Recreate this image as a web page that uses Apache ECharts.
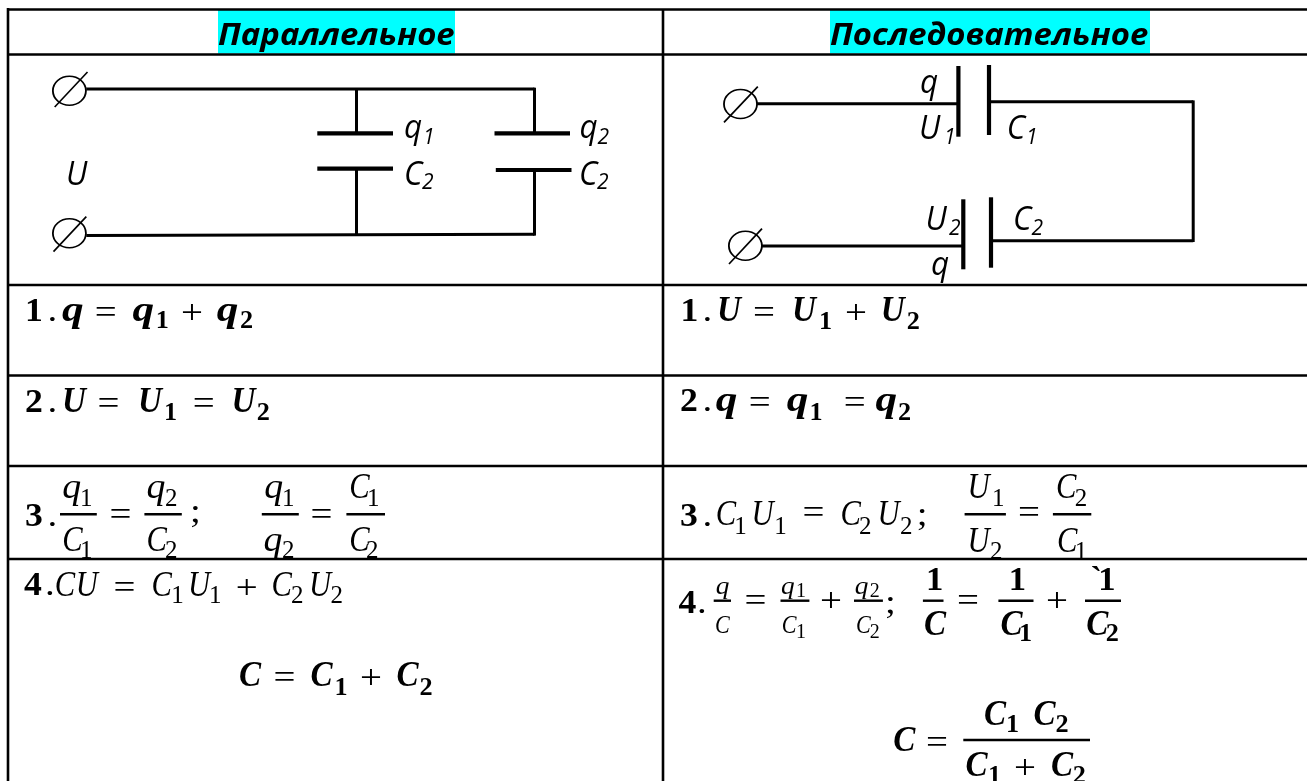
<!DOCTYPE html>
<html><head><meta charset="utf-8">
<style>html,body{margin:0;padding:0;background:#fff}#c{width:1307px;height:781px}</style>
<script src="https://cdn.jsdelivr.net/npm/echarts@6/dist/echarts.min.js"></script>
</head><body><div id="c"></div>
<script>
// x, y (x1, y1, x2, y2)
const highlights = [[218,10,455,53.5],[830,10,1150,53.5]];
const tableLines = [[7,9.5,1307,9.5],[7,54.5,1307,54.5],[7,285,1307,285],[7,375.5,1307,375.5],[7,466,1307,466],[7,559,1307,559],[8,8,8,781],[663,9,663,781]];
const wires = [[86.3,89,534.5,89],[86.3,235.5,534.5,234.3],[356.5,89,356.5,133],[356.5,169,356.5,235],[534.5,87.7,534.5,133],[534.5,170,534.5,235.6],
 [757,103.7,958.4,103.7],[989,101.7,1193.2,101.7],[1193.2,100.4,1193.2,242],[991,240.7,1193.2,240.7],[762,246,963,246]];
const plates = [[317.3,133.3,393,133.3],[317.3,168.7,393,168.7],[494.5,133.3,570,133.3],[495.8,170,571.5,170],
 [958.4,66,958.4,136.7],[989,65,989,135],[963.3,199.3,963.3,269.3],[991,197.3,991,267.7]];
const terminals = [[69.4,90.7],[69.4,233.3],[740.5,104],[745.4,245.7]];
const slashes = [[54.7,107,87.5,72],[53.5,251.7,86.3,216.7],[724,122.3,757.8,86.7],[729,264,762,228.7]];
const fractionBars = [[60,514.3,96.8,514.3],[144.4,514.3,181.8,514.3],[261.8,514.3,298.8,514.3],[346.4,514.3,385,514.3],
 [964.6,514.3,1005.9,514.3],[1052.9,514.3,1091.3,514.3],
 [713.7,600.7,731,600.7],[780.5,600.7,809.4,600.7],[854,600.7,882.9,600.7],[922.9,600.7,943.5,600.7],[998.4,600.7,1033.5,600.7],[1085,600.7,1121,600.7],[963.3,740,1090,740]];
const headings = [["Параллельное",218,44,"head"],["Последовательное",830,44,"head"]];
const circuitLabels = [["q",404,136,"lab"],["1",423,142.7,"labs"],["C",404,182.7,"lab"],["2",422,187.7,"labs"],["q",579.5,136,"lab"],["2",597.6,142.7,"labs"],["C",579,182.7,"lab"],["2",597,187.7,"labs"],["U",66,182.7,"lab"],
 ["q",920,90.7,"lab"],["U",919,136.7,"lab"],["1",944,142.7,"labs"],["C",1006.7,136.7,"lab"],["1",1026,142.7,"labs"],["U",925.4,227.7,"lab"],["2",949,233.3,"labs"],["C",1013,227.7,"lab"],["2",1031.5,233.3,"labs"],["q",931,273.3,"lab"]];
const formulasLeft = [
 ["1",25,320,"num"],[".",47.5,320,"op"],["q",62,320,"bi"],["=",94.7,320,"op"],["q",132.6,320,"bi"],["1",155.7,326.7,"bs"],["+",181,320,"op"],["q",216.7,320,"bi"],["2",240,326.7,"bs"],
 ["2",25,411,"num"],[".",47.5,411,"op"],["U",62,411,"bi"],["=",97.6,411,"op"],["U",138,411,"bi"],["1",164,418.3,"bs"],["=",192.8,411,"op"],["U",231.5,411,"bi"],["2",256.7,418.3,"bs"],
 ["3",25,524.3,"num"],[".",47.5,524.3,"op"],
 ["q",62.3,497,"it"],["1",80,504.3,"sub"],["C",62.3,550,"it"],["1",80,556.7,"sub"],["=",109.4,521.7,"op"],
 ["q",146.5,497,"it"],["2",165,504.3,"sub"],["C",146.5,550,"it"],["2",165,556.7,"sub"],[";",190,521,"op"],
 ["q",264.3,497,"it"],["1",282,504.3,"sub"],["q",263.5,550,"it"],["2",282,557,"sub"],["=",310.6,521.7,"op"],
 ["C",349.3,497,"it"],["1",367,504.3,"sub"],["C",349.3,550,"it"],["2",366,556.7,"sub"],
 ["4",24,593.3,"num"],[".",45,593.3,"op"],["C",54.7,595,"it"],["U",75.8,595,"it"],["=",113.6,595,"op"],["C",151.5,595,"it"],["1",171.3,601.7,"sub"],["U",188,595,"it"],["1",209,601.7,"sub"],["+",235.7,595,"op"],["C",271.5,595,"it"],["2",291,601.7,"sub"],["U",309,595,"it"],["2",330.4,601.7,"sub"],
 ["C",239,685,"bi"],["=",273.6,685,"op"],["C",310.6,685,"bi"],["1",334.6,693.3,"bs"],["+",359.9,685,"op"],["C",396.5,685,"bi"],["2",419.6,693.3,"bs"]];
const formulasRight = [
 ["1",680.6,320,"num"],[".",702.5,320,"op"],["U",717,320,"bi"],["=",752.9,320,"op"],["U",792,320,"bi"],["1",819,327.3,"bs"],["+",845,320,"op"],["U",880.8,320,"bi"],["2",906.8,327.3,"bs"],
 ["2",680,410,"num"],[".",702.5,410,"op"],["q",715.7,410,"bi"],["=",748.7,410,"op"],["q",786.7,410,"bi"],["1",809.4,418.3,"bs"],["=",843.7,410,"op"],["q",875.4,410,"bi"],["2",898,418.3,"bs"],
 ["3",680,524.3,"num"],[".",702.5,524.3,"op"],["C",715.7,524,"it"],["1",734.3,532.3,"sub"],["U",751.6,524,"it"],["1",774.3,532.3,"sub"],["=",802.4,520,"op"],["C",840.4,524,"it"],["2",859,532.3,"sub"],["U",877.5,524,"it"],["2",900,532.3,"sub"],[";",916.7,524,"op"],
 ["U",967.5,497,"it"],["1",992,505,"sub"],["U",967.5,550.7,"it"],["2",990,557.3,"sub"],["=",1018,520,"op"],
 ["C",1056,497,"it"],["2",1074.8,505,"sub"],["C",1057,550.7,"it"],["1",1074.8,557.3,"sub"],
 ["4",678.6,611.7,"num"],[".",697,611.7,"op"],["q",715.7,593.3,"sit"],["C",715,631.7,"sit"],["=",744.6,608,"op"],
 ["q",781,593.3,"sit"],["1",796,595.7,"ssub"],["C",781.7,631.7,"sit"],["1",796,636.7,"ssub"],["+",820,608,"op"],
 ["q",854.8,593.3,"sit"],["2",869.7,595.7,"ssub"],["C",856,631.7,"sit"],["2",869.7,636.7,"ssub"],[";",885,611.7,"op"],
 ["1",926,588.3,"bn"],["C",924,634,"bi"],["=",957,608,"op"],
 ["1",1008.7,588.3,"bn"],["C",1000.5,634,"bi"],["1",1019,639.3,"bs"],["+",1046,608,"op"],
 ["`",1090.5,588.3,"bn"],["1",1098.3,588.3,"bn"],["C",1086.3,634,"bi"],["2",1105.7,639.3,"bs"],
 ["C",893.2,750,"bi"],["=",926,750,"op"],
 ["C",984,723.3,"bi"],["1",1005.9,731,"bs"],["C",1033.5,723.3,"bi"],["2",1055.4,731,"bs"],
 ["C",965.4,775,"bi"],["1",988,781.7,"bs"],["+",1014,775,"op"],["C",1051,775,"bi"],["2",1072.7,781.7,"bs"]];

// text styling per kind: font, size, horizontal scale
const serif = '"Liberation Serif"', sans = '"Open Sans"';
const kinds = {
 head:{f:sans,s:31,w:'bold',i:'italic',k:1.06,dy:0},
 lab:{f:sans,s:32,w:'normal',i:'italic',k:0.98,dy:1.5},
 labs:{f:sans,s:21,w:'normal',i:'italic',k:1,dy:1},
 num:{f:serif,s:34,w:'bold',i:'normal',k:1.05,dy:1.5},
 bn:{f:serif,s:33,w:'bold',i:'normal',k:1.05,dy:1.5},
 op:{f:serif,s:33,w:'normal',i:'normal',k:1.18,dy:1.5},
 bi:{f:serif,s:36,w:'bold',i:'italic',k:0.92,kq:1.2,dy:1.5},
 bs:{f:serif,s:25,w:'bold',i:'normal',k:1.05,dy:1.5},
 it:{f:serif,s:36,w:'normal',i:'italic',k:0.85,kq:1.05,dy:1.5},
 sub:{f:serif,s:25,w:'normal',i:'normal',k:1,dy:1.5},
 sit:{f:serif,s:26,w:'normal',i:'italic',k:0.85,kq:1.05,dy:1},
 ssub:{f:serif,s:20,w:'normal',i:'normal',k:1,dy:1}
};
const OP_SHIFT=2;
const INK='#000';
function lineSeries(name,data,width){
 return {type:'custom',name,coordinateSystem:'cartesian2d',data,silent:true,clip:false,animation:false,
  encode:{x:[0,2],y:[1,3]},
  renderItem(p,api){const a=api.coord([api.value(0),api.value(1)]),b=api.coord([api.value(2),api.value(3)]);
   return {type:'line',shape:{x1:a[0],y1:a[1],x2:b[0],y2:b[1]},style:{stroke:INK,lineWidth:width}};}};
}
function textSeries(name,data){
 return {type:'custom',name,coordinateSystem:'cartesian2d',data:data,silent:true,clip:false,animation:false,
  dimensions:['text','x','y','kind'],encode:{x:1,y:2},
  renderItem(p,api){const d=data[p.dataIndex],k=kinds[d[3]],c=api.coord([d[1],d[2]]);
   const sx=(d[0]==='q'&&k.kq)?k.kq:k.k;
   const dy=k.dy+((d[0]==='='||d[0]==='+')?OP_SHIFT:0);
   return {type:'text',x:c[0],y:c[1]+k.s*0.235+dy,scaleX:sx,
    style:{text:d[0],x:0,y:0,fill:INK,font:`${k.i} ${k.w} ${k.s}px ${k.f}`,textAlign:'left',verticalAlign:'bottom'}};}};
}
const chart=echarts.init(document.getElementById('c'));
chart.setOption({
 animation:false,backgroundColor:'#fff',
 grid:{left:0,right:0,top:0,bottom:0},
 xAxis:{type:'value',min:0,max:1307,show:false},
 yAxis:{type:'value',min:0,max:781,inverse:true,show:false},
 series:[
  {type:'custom',name:'highlight',coordinateSystem:'cartesian2d',data:highlights,silent:true,animation:false,encode:{x:[0,2],y:[1,3]},
   renderItem(p,api){const a=api.coord([api.value(0),api.value(1)]),b=api.coord([api.value(2),api.value(3)]);
    return {type:'rect',shape:{x:a[0],y:a[1],width:b[0]-a[0],height:b[1]-a[1]},style:{fill:'#00ffff'}};}},
  lineSeries('table',tableLines,2.6),
  lineSeries('wires',wires,3),
  lineSeries('plates',plates,4.2),
  lineSeries('slashes',slashes,1.7),
  lineSeries('fractions',fractionBars,2.4),
  {type:'custom',name:'terminals',coordinateSystem:'cartesian2d',data:terminals,silent:true,animation:false,encode:{x:0,y:1},
   renderItem(p,api){const c=api.coord([api.value(0),api.value(1)]);
    return {type:'circle',x:c[0],y:c[1],scaleX:1.14,scaleY:1,shape:{cx:0,cy:0,r:14.5},style:{fill:'none',stroke:INK,lineWidth:1.6}};}},
  textSeries('headings',headings),
  textSeries('circuit',circuitLabels),
  textSeries('left',formulasLeft),
  textSeries('right',formulasRight)
 ]
});
</script></body></html>
